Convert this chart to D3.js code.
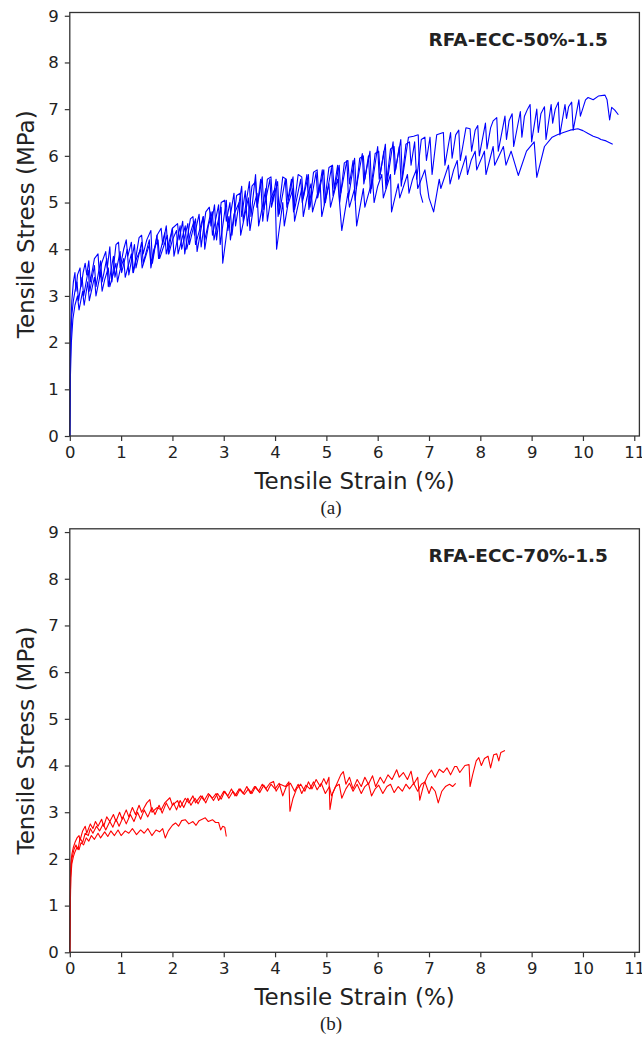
<!DOCTYPE html>
<html>
<head>
<meta charset="utf-8">
<script src="https://cdn.jsdelivr.net/npm/d3@7"></script>
<style>
  body { margin: 0; background: #fff; }
  text { font-family: "DejaVu Sans", sans-serif; fill: #222; }
</style>
</head>
<body>
<svg id="chart" width="642" height="1042"></svg>
<script>
// ticks
var strainTicks = [0, 1, 2, 3, 4, 5, 6, 7, 8, 9, 10, 11];
var stressTicks = [0, 1, 2, 3, 4, 5, 6, 7, 8, 9];

// panel (a) RFA-ECC-50%-1.5 : [strain %, stress MPa]
var a1 = [[0,0],[0.005,1.0],[0.01,1.8],[0.02,2.4],[0.04,2.9],[0.07,3.3],[0.1,3.5],[0.12,3.1],[0.15,3.45],[0.2,3.6],[0.22,3.2],[0.26,3.5],[0.3,3.7],[0.33,3.45],[0.37,3.75],[0.4,3.3],[0.48,3.8],[0.55,3.9],[0.58,3.4],[0.62,3.7],[0.7,3.95],[0.73,3.6],[0.78,4.05],[0.82,3.3],[0.9,4.1],[0.95,4.15],[0.98,3.6],[1.05,4.0],[1.1,4.2],[1.13,3.85],[1.2,4.15],[1.24,3.5],[1.35,4.25],[1.4,4.3],[1.43,3.9],[1.5,4.2],[1.58,4.4],[1.61,3.7],[1.7,4.3],[1.78,4.45],[1.81,4.1],[1.88,4.5],[1.92,3.9],[2.0,4.45],[2.1,4.55],[2.13,4.2],[2.2,4.6],[2.24,3.9],[2.35,4.65],[2.4,4.7],[2.43,4.3],[2.52,4.75],[2.56,4.05],[2.65,4.8],[2.72,4.9],[2.75,4.5],[2.82,4.95],[2.86,4.2],[2.95,5.0],[3.02,5.05],[3.05,4.6],[3.12,5.0],[3.16,4.3],[3.25,5.15],[3.32,5.2],[3.35,4.7],[3.42,5.25],[3.46,4.5],[3.55,5.35],[3.62,5.45],[3.65,4.9],[3.72,5.5],[3.76,4.6],[3.85,5.5],[3.92,5.55],[3.95,5.0],[4.02,5.5],[4.06,4.7],[4.15,5.55],[4.22,5.5],[4.25,5.05],[4.32,5.5],[4.36,4.8],[4.45,5.6],[4.52,5.55],[4.55,5.1],[4.62,5.6],[4.66,4.85],[4.75,5.65],[4.82,5.7],[4.85,5.2],[4.92,5.7],[4.96,4.95],[5.05,5.75],[5.12,5.8],[5.15,5.3],[5.22,5.8],[5.26,5.0],[5.35,5.85],[5.42,5.9],[5.45,5.4],[5.52,5.9],[5.56,5.05],[5.65,5.95],[5.72,6.0],[5.75,5.5],[5.82,6.0],[5.86,5.2],[5.95,6.05],[6.02,6.1],[6.05,5.6],[6.12,6.1],[6.16,5.3],[6.25,6.15],[6.32,6.2],[6.35,5.7],[6.42,6.2],[6.46,5.35],[6.55,6.25],[6.62,6.3],[6.65,5.8],[6.72,6.3],[6.76,5.5],[6.85,6.35],[6.92,6.4],[6.95,5.9],[7.02,6.4],[7.06,5.6],[7.15,6.45],[7.28,6.5],[7.31,5.8],[7.42,6.5],[7.45,5.95],[7.52,6.45],[7.58,6.55],[7.61,5.9],[7.72,6.6],[7.8,6.58],[7.83,6.1],[7.9,6.55],[7.95,6.65],[7.98,6.0],[8.1,6.7],[8.13,6.15],[8.2,6.6],[8.25,6.75],[8.32,6.82],[8.35,6.1],[8.48,6.85],[8.51,6.35],[8.56,6.75],[8.62,6.9],[8.65,6.2],[8.78,6.95],[8.81,6.4],[8.86,6.85],[8.92,7.0],[8.97,7.1],[9.0,6.3],[9.1,7.0],[9.13,6.5],[9.18,6.9],[9.25,7.05],[9.28,6.35],[9.38,7.1],[9.41,6.7],[9.46,7.0],[9.52,7.15],[9.55,6.45],[9.65,7.1],[9.68,6.8],[9.72,7.05],[9.78,7.15],[9.81,6.55],[9.92,7.2],[9.95,6.85],[10.05,7.2],[10.1,7.25],[10.2,7.2],[10.3,7.28],[10.43,7.3],[10.47,7.2],[10.52,6.77],[10.56,7.04],[10.62,6.98],[10.69,6.88]];

var a2 = [[0,0],[0.01,1.2],[0.03,2.0],[0.06,2.5],[0.1,2.8],[0.15,3.0],[0.18,2.7],[0.25,3.1],[0.28,2.8],[0.35,3.3],[0.38,2.9],[0.44,3.2],[0.48,3.4],[0.51,3.0],[0.6,3.5],[0.63,3.1],[0.68,3.35],[0.75,3.6],[0.78,3.2],[0.9,3.7],[0.93,3.3],[0.98,3.55],[1.05,3.8],[1.08,3.4],[1.2,3.9],[1.23,3.5],[1.3,3.8],[1.38,4.0],[1.41,3.6],[1.55,4.1],[1.58,3.7],[1.64,4.0],[1.72,4.2],[1.75,3.8],[1.9,4.3],[1.93,3.9],[2.0,4.2],[2.08,4.4],[2.11,3.9],[2.25,4.5],[2.28,4.0],[2.35,4.35],[2.42,4.6],[2.45,4.1],[2.6,4.7],[2.63,4.0],[2.7,4.5],[2.78,4.8],[2.81,4.2],[2.95,4.9],[2.98,3.7],[3.1,4.7],[3.13,4.2],[3.2,4.75],[3.3,5.0],[3.33,4.3],[3.48,5.1],[3.51,4.4],[3.58,4.9],[3.65,5.2],[3.68,4.5],[3.82,5.3],[3.85,4.6],[3.92,5.1],[4.0,5.3],[4.03,4.0],[4.15,5.0],[4.18,4.5],[4.25,4.95],[4.35,5.3],[4.38,4.6],[4.52,5.3],[4.55,4.7],[4.62,5.1],[4.7,5.4],[4.73,4.8],[4.88,5.4],[4.91,4.7],[5.05,5.4],[5.08,4.9],[5.22,5.5],[5.3,4.4],[5.42,5.2],[5.45,4.9],[5.55,5.3],[5.59,4.5],[5.72,5.3],[5.75,4.9],[5.9,5.5],[5.93,5.0],[6.0,5.35],[6.08,5.6],[6.11,5.1],[6.25,5.6],[6.27,4.8],[6.4,5.4],[6.43,5.1],[6.58,5.6],[6.61,5.2],[6.68,5.5],[6.75,5.7],[6.78,5.3],[6.92,5.7],[7.0,5.1],[7.09,4.8],[7.2,5.5],[7.23,5.3],[7.38,5.8],[7.41,5.4],[7.48,5.7],[7.55,5.9],[7.58,5.5],[7.72,6.0],[7.75,5.6],[7.82,5.9],[7.9,6.1],[7.93,5.7],[8.08,6.1],[8.11,5.6],[8.25,6.2],[8.28,5.8],[8.45,6.2],[8.5,5.8],[8.6,6.1],[8.74,5.58],[8.9,6.1],[9.05,6.3],[9.1,5.54],[9.25,6.2],[9.4,6.4],[9.5,6.45],[9.62,6.5],[9.75,6.55],[9.9,6.58],[10.0,6.54],[10.1,6.48],[10.2,6.42],[10.3,6.38],[10.35,6.35],[10.45,6.32],[10.58,6.25]];

var a3 = [[0,0],[0.01,1.5],[0.02,2.1],[0.04,2.6],[0.07,2.9],[0.1,3.1],[0.14,3.3],[0.17,2.9],[0.24,3.4],[0.27,3.0],[0.36,3.55],[0.39,3.1],[0.48,3.65],[0.51,3.2],[0.6,3.75],[0.63,3.3],[0.72,3.8],[0.75,3.2],[0.85,3.85],[0.88,3.4],[0.98,3.95],[1.01,3.5],[1.12,4.0],[1.15,3.45],[1.26,4.1],[1.29,3.6],[1.4,4.15],[1.43,3.7],[1.55,4.2],[1.58,3.6],[1.7,4.3],[1.73,3.8],[1.85,4.35],[1.88,3.9],[2.0,4.45],[2.03,3.85],[2.15,4.5],[2.18,4.0],[2.3,4.55],[2.33,4.1],[2.45,4.65],[2.48,3.95],[2.6,4.7],[2.63,4.2],[2.75,4.8],[2.78,4.3],[2.9,4.95],[2.93,4.1],[3.05,5.05],[3.08,4.4],[3.2,5.2],[3.23,4.5],[3.35,5.35],[3.38,4.6],[3.5,5.45],[3.53,4.7],[3.62,5.6],[3.65,4.9],[3.75,5.55],[3.78,4.85],[3.9,5.5],[3.93,4.9],[4.05,5.45],[4.08,4.75],[4.2,5.5],[4.23,4.9],[4.35,5.55],[4.38,4.85],[4.5,5.5],[4.53,5.0],[4.65,5.6],[4.68,4.9],[4.8,5.65],[4.83,5.1],[4.95,5.7],[4.98,5.0],[5.1,5.75],[5.13,5.15],[5.25,5.8],[5.28,5.2],[5.4,5.9],[5.43,5.1],[5.55,5.95],[5.58,5.3],[5.7,6.05],[5.73,5.4],[5.85,6.1],[5.88,5.3],[6.0,6.2],[6.03,5.5],[6.15,6.25],[6.18,5.4],[6.3,6.3],[6.33,5.6],[6.45,6.35],[6.48,5.5],[6.6,6.4],[6.7,6.42],[6.79,6.45],[6.83,5.2],[6.88,5.0]];

// panel (b) RFA-ECC-70%-1.5
var b1 = [[0,0],[0.005,0.8],[0.01,1.5],[0.02,1.9],[0.04,2.1],[0.07,2.25],[0.1,2.35],[0.14,2.45],[0.18,2.5],[0.2,2.4],[0.25,2.6],[0.3,2.7],[0.33,2.55],[0.4,2.75],[0.45,2.65],[0.5,2.8],[0.55,2.7],[0.62,2.85],[0.66,2.7],[0.72,2.9],[0.78,2.8],[0.85,2.95],[0.9,2.8],[0.97,3.0],[1.02,2.85],[1.1,3.05],[1.15,2.9],[1.22,3.1],[1.28,2.95],[1.35,3.15],[1.4,3.0],[1.5,3.2],[1.56,3.27],[1.6,3.0],[1.7,3.1],[1.78,3.05],[1.85,3.2],[1.95,3.31],[2.0,3.15],[2.1,3.25],[2.15,3.1],[2.25,3.3],[2.32,3.2],[2.4,3.35],[2.45,3.2],[2.55,3.35],[2.62,3.25],[2.7,3.4],[2.78,3.3],[2.85,3.4],[2.9,3.25],[3.0,3.45],[3.08,3.35],[3.15,3.5],[3.22,3.35],[3.3,3.5],[3.38,3.4],[3.45,3.55],[3.52,3.4],[3.6,3.55],[3.68,3.45],[3.75,3.6],[3.82,3.5],[3.9,3.62],[3.97,3.66],[4.02,3.45],[4.1,3.6],[4.2,3.55],[4.27,3.65],[4.29,3.02],[4.35,3.3],[4.42,3.5],[4.5,3.6],[4.58,3.45],[4.65,3.65],[4.72,3.5],[4.8,3.7],[4.88,3.55],[4.95,3.72],[5.0,3.6],[5.05,3.75],[5.07,3.06],[5.12,3.4],[5.2,3.6],[5.28,3.8],[5.33,3.87],[5.38,3.6],[5.45,3.75],[5.52,3.5],[5.6,3.7],[5.68,3.55],[5.75,3.75],[5.82,3.6],[5.9,3.78],[5.96,3.55],[6.05,3.75],[6.12,3.62],[6.2,3.8],[6.28,3.7],[6.37,3.91],[6.42,3.75],[6.5,3.85],[6.58,3.7],[6.65,3.88],[6.7,3.6],[6.78,3.75],[6.82,3.26],[6.9,3.6],[6.98,3.8],[7.05,3.9],[7.12,3.75],[7.2,3.92],[7.28,3.85],[7.35,3.95],[7.42,3.8],[7.5,3.98],[7.54,3.98],[7.6,3.85],[7.7,4.0],[7.78,4.02],[7.8,3.55],[7.85,3.8],[7.92,4.1],[7.97,4.17],[8.02,4.0],[8.08,4.15],[8.15,4.2],[8.2,3.95],[8.26,4.23],[8.32,4.25],[8.36,4.1],[8.4,4.28],[8.48,4.32]];

var b2 = [[0,0],[0.01,1.2],[0.02,1.7],[0.04,2.0],[0.08,2.2],[0.12,2.3],[0.16,2.2],[0.2,2.45],[0.25,2.35],[0.3,2.55],[0.36,2.5],[0.4,2.65],[0.45,2.55],[0.52,2.7],[0.58,2.6],[0.65,2.75],[0.7,2.62],[0.78,2.8],[0.84,2.68],[0.9,2.85],[0.96,2.7],[1.04,2.9],[1.1,2.75],[1.18,2.95],[1.25,2.8],[1.32,3.0],[1.38,2.85],[1.45,3.05],[1.52,2.9],[1.6,3.1],[1.66,2.95],[1.74,3.15],[1.8,2.98],[1.88,3.2],[1.95,3.05],[2.02,3.2],[2.08,3.05],[2.15,3.25],[2.22,3.1],[2.3,3.3],[2.36,3.15],[2.44,3.3],[2.5,3.18],[2.58,3.35],[2.65,3.2],[2.72,3.38],[2.8,3.25],[2.88,3.4],[2.95,3.28],[3.02,3.45],[3.1,3.3],[3.18,3.45],[3.25,3.35],[3.32,3.5],[3.4,3.38],[3.48,3.5],[3.55,3.4],[3.62,3.55],[3.7,3.42],[3.78,3.58],[3.85,3.45],[3.92,3.6],[4.0,3.5],[4.08,3.62],[4.15,3.35],[4.22,3.55],[4.3,3.62],[4.38,3.45],[4.45,3.6],[4.52,3.4],[4.6,3.58],[4.68,3.5],[4.75,3.65],[4.82,3.48],[4.9,3.62],[4.98,3.4],[5.06,3.55],[5.1,3.35],[5.18,3.55],[5.25,3.6],[5.3,3.3],[5.38,3.5],[5.45,3.62],[5.52,3.45],[5.6,3.6],[5.68,3.4],[5.75,3.55],[5.82,3.62],[5.88,3.35],[5.95,3.5],[6.02,3.58],[6.1,3.4],[6.18,3.55],[6.25,3.6],[6.32,3.42],[6.4,3.55],[6.48,3.45],[6.55,3.6],[6.62,3.5],[6.7,3.62],[6.78,3.45],[6.85,3.6],[6.92,3.65],[7.0,3.4],[7.05,3.55],[7.12,3.45],[7.18,3.2],[7.25,3.45],[7.32,3.55],[7.4,3.6],[7.46,3.55],[7.52,3.62]];

var b3 = [[0,0],[0.01,1.0],[0.02,1.6],[0.04,1.9],[0.07,2.05],[0.1,2.15],[0.14,2.25],[0.18,2.2],[0.22,2.35],[0.27,2.3],[0.32,2.45],[0.37,2.38],[0.42,2.5],[0.48,2.42],[0.55,2.55],[0.6,2.45],[0.68,2.58],[0.74,2.48],[0.8,2.6],[0.87,2.5],[0.94,2.62],[1.0,2.5],[1.08,2.6],[1.15,2.55],[1.22,2.65],[1.3,2.52],[1.38,2.62],[1.45,2.55],[1.52,2.65],[1.6,2.5],[1.68,2.62],[1.75,2.58],[1.81,2.65],[1.86,2.45],[1.92,2.6],[2.0,2.72],[2.06,2.77],[2.12,2.7],[2.18,2.82],[2.25,2.84],[2.32,2.75],[2.4,2.8],[2.46,2.72],[2.52,2.82],[2.58,2.85],[2.64,2.88],[2.7,2.8],[2.78,2.84],[2.84,2.78],[2.9,2.78],[2.94,2.62],[2.98,2.7],[3.02,2.68],[3.05,2.48]];

var svg = d3.select("#chart");

// un panneau = axes + courbes + titres
function drawPanel(top, curves, color, label, caption) {
  var left = 69.8, right = 639.4, bottom = top + 423.5;

  var x = d3.scaleLinear().domain([0, 11.1]).range([left, right]);
  var y = d3.scaleLinear().domain([0, 9.07]).range([bottom, top]);

  var g = svg.append("g");

  // courbes
  var line = d3.line().x(d => x(d[0])).y(d => y(d[1]));
  g.append("g")
    .selectAll("path")
    .data(curves)
    .join("path")
      .attr("d", line)
      .attr("fill", "none")
      .attr("stroke", color)
      .attr("stroke-width", 1.1)
      .attr("stroke-linejoin", "round");

  // cadre
  g.append("rect")
    .attr("x", left).attr("y", top)
    .attr("width", right - left).attr("height", bottom - top)
    .attr("fill", "none")
    .attr("stroke", "#333")
    .attr("stroke-width", 1.3);

  // axe x
  var ax = g.append("g")
    .attr("transform", `translate(0,${bottom})`)
    .call(d3.axisBottom(x).tickValues(strainTicks).tickFormat(d3.format("d")).tickSize(5).tickPadding(5));
  ax.select(".domain").remove();
  ax.selectAll("line").attr("stroke", "#333").attr("stroke-width", 1.2);
  ax.selectAll("text").attr("font-size", 16.5).attr("fill", "#222").attr("font-family", "DejaVu Sans");

  // axe y
  var ay = g.append("g")
    .attr("transform", `translate(${left},0)`)
    .call(d3.axisLeft(y).tickValues(stressTicks).tickFormat(d3.format("d")).tickSize(5).tickPadding(6));
  ay.select(".domain").remove();
  ay.selectAll("line").attr("stroke", "#333").attr("stroke-width", 1.2);
  ay.selectAll("text").attr("font-size", 16.5).attr("fill", "#222").attr("font-family", "DejaVu Sans");

  // titres des axes
  g.append("text")
    .attr("x", (left + right) / 2)
    .attr("y", bottom + 53)
    .attr("text-anchor", "middle")
    .attr("font-size", 23)
    .text("Tensile Strain (%)");

  g.append("text")
    .attr("transform", `translate(34,${(top + bottom) / 2}) rotate(-90)`)
    .attr("text-anchor", "middle")
    .attr("font-size", 23)
    .text("Tensile Stress (MPa)");

  // étiquette de l'éprouvette
  g.append("text")
    .attr("x", 608)
    .attr("y", top + 33)
    .attr("text-anchor", "end")
    .attr("font-size", 18.5)
    .attr("font-weight", "bold")
    .text(label);

  // légende (a) / (b)
  g.append("text")
    .attr("x", 331)
    .attr("y", bottom + 78)
    .attr("text-anchor", "middle")
    .attr("font-size", 19)
    .style("font-family", "'Liberation Serif', serif")
    .text(caption);
}

drawPanel(12.5, [a2, a3, a1], "#0000ff", "RFA-ECC-50%-1.5", "(a)");
drawPanel(528.8, [b3, b2, b1], "#ff0000", "RFA-ECC-70%-1.5", "(b)");
</script>
</body>
</html>
